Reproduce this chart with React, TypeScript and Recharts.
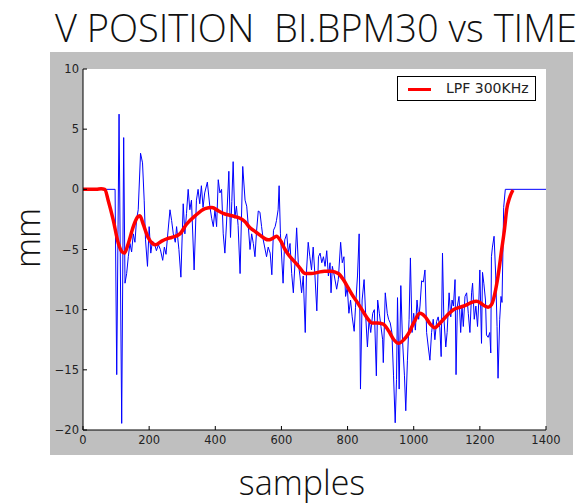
import React from 'react';
import { LineChart, Line, XAxis, YAxis, CartesianGrid, Legend } from 'recharts';

// Raw BPM vertical position samples (blue)
const rawX = [0, 97, 102, 109, 117, 123, 127, 132, 137, 142, 147, 152, 157, 162, 167, 174, 177, 180, 185, 189, 195, 200, 205, 210, 216, 222, 228, 234, 241, 246, 251, 256, 263, 268, 273, 279, 283, 290, 296, 303, 308, 313, 318, 323, 328, 336, 343, 348, 353, 358, 363, 368, 376, 383, 389, 394, 399, 404, 409, 414, 419, 424, 429, 434, 441, 446, 450, 454, 459, 464, 469, 475, 483, 490, 495, 500, 505, 510, 515, 520, 525, 530, 535, 540, 545, 555, 560, 566, 571, 576, 581, 585, 590, 593, 597, 605, 610, 616, 621, 626, 631, 636, 641, 646, 651, 656, 661, 666, 672, 676, 681, 686, 691, 696, 701, 707, 712, 717, 722, 727, 732, 737, 742, 747, 750, 754, 760, 767, 772, 779, 784, 789, 794, 799, 804, 809, 814, 820, 824, 830, 835, 839, 844, 850, 855, 860, 865, 870, 876, 881, 887, 891, 896, 901, 906, 908, 914, 920, 924, 929, 934, 939, 944, 948, 951, 956, 961, 966, 972, 976, 981, 986, 990, 995, 1000, 1005, 1010, 1015, 1019, 1024, 1029, 1034, 1039, 1044, 1049, 1054, 1059, 1064, 1069, 1074, 1079, 1083, 1087, 1091, 1097, 1101, 1107, 1112, 1116, 1120, 1125, 1128, 1132, 1137, 1142, 1146, 1150, 1155, 1160, 1165, 1170, 1175, 1178, 1183, 1188, 1193, 1197, 1200, 1205, 1208, 1212, 1217, 1220, 1225, 1230, 1233, 1235, 1238, 1243, 1248, 1252, 1255, 1260, 1264, 1267, 1272, 1277, 1400];
const rawY = [0, 0, -15.4, 6.25, -19.45, 4.3, -7.8, -7.0, -5.6, -4.5, -5.2, -3.7, -4.4, -2.5, -1.7, 3.0, 2.6, 2.2, -0.9, -4.2, -6.4, -3.1, -5.3, -4.3, -4.5, -5.1, -4.6, -5.0, -5.9, -4.8, -5.4, -3.8, -1.7, -2.6, -3.7, -4.4, -3.1, -5.0, -7.3, -1.2, -3.7, -2.0, 0, -1.7, -0.9, -6.7, -0.9, 0, -1.2, 0.3, -1.5, -0.3, 0.6, -1.3, -2.4, -3.1, -1.7, -3.1, 0.8, -0.3, 0.0, -3.7, -5.3, -2.8, 1.5, -4.0, -1.0, 2.3, -2.4, -1.4, -3.0, -7.0, 1.9, -0.9, -1.4, -3.1, -5.0, -3.7, -4.5, -5.6, -3.4, -1.8, -1.9, -3.1, -4.2, -5.6, -4.8, -5.3, -7.1, -3.4, -3.1, -2.6, -1.7, 0.3, -3.7, -7.8, -4.2, -3.7, -5.3, -4.5, -7.0, -8.6, -6.1, -3.2, -6.1, -7.2, -8.6, -7.2, -11.9, -6.7, -4.4, -5.6, -6.7, -4.8, -7.0, -10.1, -5.6, -5.3, -6.1, -5.6, -6.4, -5.1, -7.2, -6.1, -8.6, -6.4, -7.2, -8.3, -7.5, -4.4, -6.1, -5.6, -8.9, -8.1, -10.3, -9.2, -10.6, -11.8, -9.8, -7.2, -3.7, -16.6, -9.2, -7.5, -10.6, -13.1, -10.8, -11.9, -10.3, -10.0, -15.5, -9.2, -10.3, -11.4, -12.5, -14.4, -8.6, -10.3, -10.8, -11.1, -11.9, -15.5, -19.4, -15.8, -9.0, -16.6, -8.0, -12.5, -15.5, -18.4, -14.2, -10.8, -5.7, -11.9, -10.3, -11.7, -9.2, -10.8, -9.7, -7.6, -7.7, -6.7, -11.9, -13.1, -14.2, -11.9, -10.8, -12.5, -11.0, -10.6, -11.5, -13.9, -5.3, -10.6, -13.1, -11.9, -8.6, -10.6, -9.2, -9.7, -7.5, -15.4, -9.7, -8.9, -11.9, -9.7, -11.4, -8.9, -8.6, -10.3, -11.9, -8.6, -7.8, -10.8, -9.7, -11.4, -9.2, -6.7, -12.8, -6.9, -7.8, -9.2, -12.1, -12.3, -11.9, -13.6, -5.6, -4.8, -3.9, -7.2, -11.4, -15.7, -10.8, -8.9, -9.4, -1.5, 0, 0];

// Low-pass filtered (300 kHz) trace (red)
const lpfX = [0, 40, 55, 66, 76, 91, 107, 118, 125, 137, 152, 165, 172, 182, 197, 210, 220, 238, 255, 268, 293, 313, 339, 369, 390, 410, 424, 450, 475, 490, 505, 520, 535, 550, 560, 572, 585, 598, 611, 623, 636, 655, 672, 690, 710, 730, 750, 772, 787, 802, 817, 832, 850, 865, 873, 890, 908, 925, 940, 954, 970, 984, 1000, 1019, 1035, 1050, 1064, 1080, 1100, 1120, 1140, 1160, 1175, 1190, 1205, 1215, 1225, 1235, 1245, 1255, 1266, 1275, 1281, 1290, 1300];
const lpfY = [0, 0, 0.05, 0, -0.9, -2.5, -4.5, -5.2, -5.3, -4.5, -3.1, -2.3, -2.2, -2.9, -4.0, -4.5, -4.6, -4.3, -4.1, -4.0, -3.7, -2.9, -2.2, -1.6, -1.5, -1.8, -2.0, -2.2, -2.4, -2.7, -3.2, -3.5, -3.8, -4.1, -4.2, -4.1, -3.9, -4.3, -5.0, -5.5, -5.9, -6.5, -7.0, -7.0, -6.9, -6.8, -6.8, -7.0, -7.5, -8.2, -8.9, -9.5, -10.3, -10.9, -11.1, -11.1, -11.2, -11.8, -12.5, -12.8, -12.5, -12.0, -11.1, -10.3, -10.6, -11.2, -11.5, -11.1, -10.5, -10.0, -9.8, -9.6, -9.4, -9.3, -9.5, -9.7, -9.8, -9.6, -8.7, -7.2, -5.0, -3.2, -1.7, -0.7, -0.05];

const xTicks = [0, 200, 400, 600, 800, 1000, 1200, 1400];
const yTicks = [-20, -15, -10, -5, 0, 5, 10];

const titleText = 'V POSITION  BI.BPM30 vs TIME';
const xLabel = 'samples';
const yLabel = 'mm';
const legendLabel = 'LPF 300KHz';

const rawData = rawX.map((x, i) => ({ x, v: rawY[i] }));
const lpfData = lpfX.map((x, i) => ({ x, v: lpfY[i] }));

const TICK_FONT = '"DejaVu Sans", sans-serif';
const fmt = (v: number) => (v < 0 ? '\u2212' + Math.abs(v) : String(v));

const BottomTick = (p: any) => (
  <g>
    <line x1={p.x} x2={p.x} y1={p.y} y2={p.y - 4} stroke="#000" strokeWidth={1} />
    <text x={p.x} y={p.y + 14} textAnchor="middle" fontFamily={TICK_FONT} fontSize={11.5} fill="#222">
      {fmt(p.payload.value)}
    </text>
  </g>
);
const LeftTick = (p: any) => (
  <g>
    <line x1={p.x} x2={p.x + 4} y1={p.y} y2={p.y} stroke="#000" strokeWidth={1} />
    <text x={p.x - 4} y={p.y + 4} textAnchor="end" fontFamily={TICK_FONT} fontSize={11.5} fill="#222">
      {fmt(p.payload.value)}
    </text>
  </g>
);
const TopTick = (p: any) => (
  <line x1={p.x} x2={p.x} y1={p.y} y2={p.y + 4} stroke="#000" strokeWidth={1} />
);
const RightTick = (p: any) => (
  <line x1={p.x} x2={p.x - 4} y1={p.y} y2={p.y} stroke="#000" strokeWidth={1} />
);

const LegendBox = () => (
  <div
    style={{
      width: 139,
      height: 25,
      background: '#fff',
      border: '1px solid #000',
      boxSizing: 'border-box',
      position: 'relative',
    }}
  >
    <div style={{ position: 'absolute', left: 10, top: 11, width: 23, height: 3, background: '#ff0000' }} />
    <div
      style={{
        position: 'absolute',
        left: 48,
        top: 3,
        fontFamily: TICK_FONT,
        fontSize: 14,
        lineHeight: '17px',
        color: '#222',
        whiteSpace: 'nowrap',
      }}
    >
      {legendLabel}
    </div>
  </div>
);

export default function App() {
  return (
    <div style={{ position: 'absolute', left: 0, top: 0, width: 579, height: 504, background: '#fff', overflow: 'hidden' }}>
      <div
        style={{
          position: 'absolute',
          left: 55,
          top: 3,
          fontFamily: '"Open Sans", sans-serif',
          fontWeight: 300,
          fontSize: 38,
          lineHeight: '48px',
          color: '#111',
          whiteSpace: 'pre',
        }}
      >
        {titleText}
      </div>
      <div style={{ position: 'absolute', left: 50, top: 52 }}>
        <LineChart
          width={523}
          height={403}
          margin={{ top: 17, right: 27, left: 0, bottom: 0 }}
          style={{ background: '#bfbfbf' }}
        >
          <CartesianGrid horizontal={false} vertical={false} fill="#ffffff" />
          <XAxis
            xAxisId="b"
            dataKey="x"
            type="number"
            domain={[0, 1400]}
            ticks={xTicks}
            height={25}
            tickSize={0}
            tickMargin={0}
            tickLine={false}
            axisLine={{ stroke: '#000' }}
            tick={<BottomTick />}
            interval={0}
          />
          <XAxis
            xAxisId="t"
            orientation="top"
            dataKey="x"
            type="number"
            domain={[0, 1400]}
            ticks={xTicks}
            height={0}
            tickSize={0}
            tickMargin={0}
            tickLine={false}
            axisLine={{ stroke: '#000' }}
            tick={<TopTick />}
            interval={0}
          />
          <YAxis
            yAxisId="l"
            type="number"
            domain={[-20, 10]}
            ticks={yTicks}
            width={33}
            tickSize={0}
            tickMargin={0}
            tickLine={false}
            axisLine={{ stroke: '#000' }}
            tick={<LeftTick />}
            interval={0}
          />
          <YAxis
            yAxisId="r"
            orientation="right"
            type="number"
            domain={[-20, 10]}
            ticks={yTicks}
            width={0}
            tickSize={0}
            tickMargin={0}
            tickLine={false}
            axisLine={{ stroke: '#000' }}
            tick={<RightTick />}
            interval={0}
          />
          <Legend
            layout="vertical"
            align="center"
            verticalAlign="middle"
            wrapperStyle={{ left: 347, top: 24, width: 139, height: 25 }}
            content={() => <LegendBox />}
          />
          <Line
            xAxisId="b"
            yAxisId="l"
            data={rawData}
            dataKey="v"
            type="linear"
            stroke="#0000ff"
            strokeWidth={1}
            dot={false}
            activeDot={false}
            isAnimationActive={false}
            legendType="none"
          />
          <Line
            xAxisId="b"
            yAxisId="l"
            data={lpfData}
            dataKey="v"
            type="monotone"
            stroke="#ff0000"
            strokeWidth={3.5}
            dot={false}
            activeDot={false}
            isAnimationActive={false}
            name={legendLabel}
          />
        </LineChart>
      </div>
      <div
        style={{
          position: 'absolute',
          left: 27,
          top: 238,
          transform: 'translate(-50%, -50%) rotate(-90deg)',
          fontFamily: '"Open Sans", sans-serif',
          fontWeight: 300,
          fontSize: 34,
          lineHeight: '40px',
          color: '#111',
          whiteSpace: 'nowrap',
        }}
      >
        {yLabel}
      </div>
      <div
        style={{
          position: 'absolute',
          left: 302,
          top: 482,
          transform: 'translate(-50%, -50%)',
          fontFamily: '"Open Sans", sans-serif',
          fontWeight: 300,
          fontSize: 34,
          lineHeight: '36px',
          color: '#111',
          whiteSpace: 'nowrap',
        }}
      >
        {xLabel}
      </div>
    </div>
  );
}
